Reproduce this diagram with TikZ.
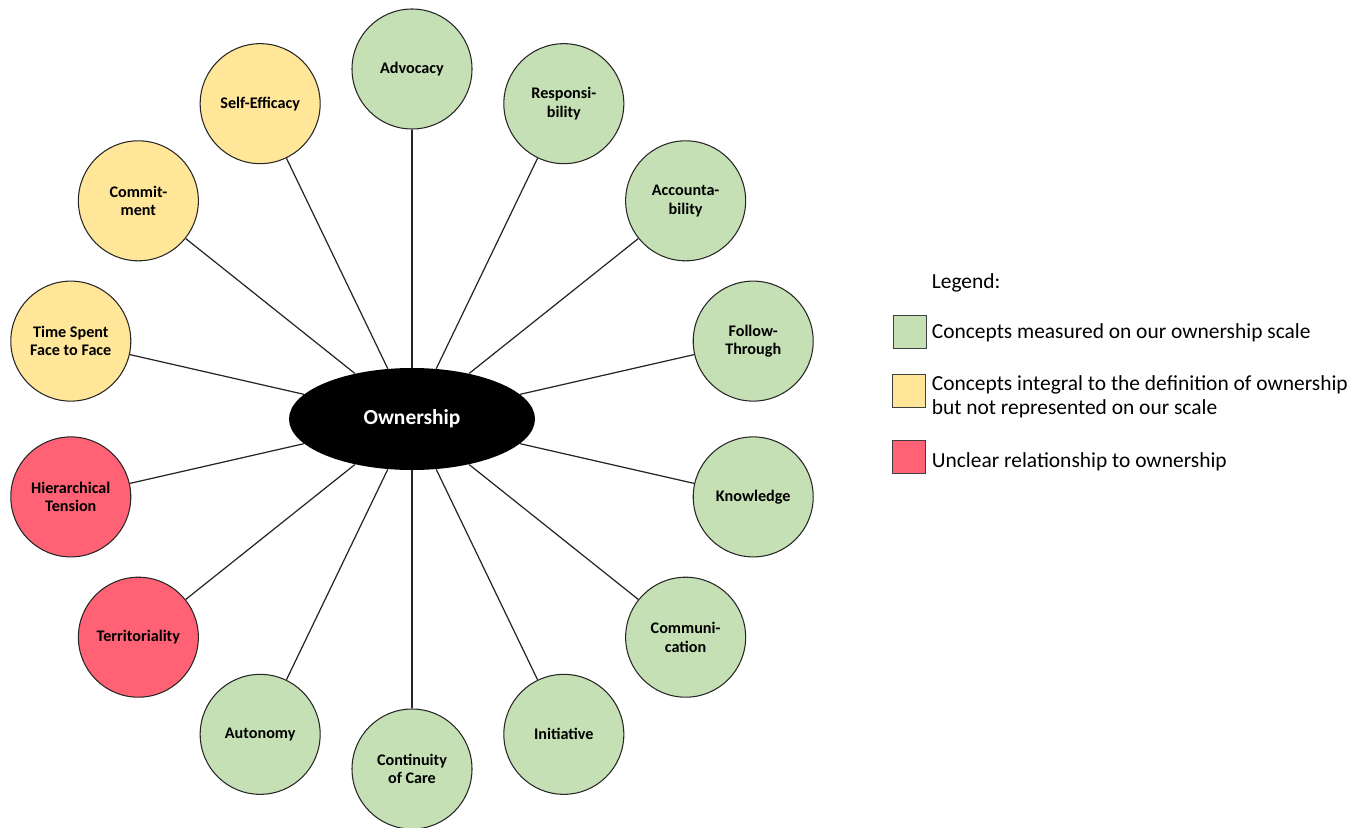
\documentclass[tikz,border=0pt]{standalone}
\usepackage{fontspec}
\setmainfont{Carlito}
\usetikzlibrary{positioning,calc,shapes.geometric}
\definecolor{concgreen}{HTML}{C5E0B4}
\definecolor{concyellow}{HTML}{FFE699}
\definecolor{concred}{HTML}{FF6274}
\tikzset{
    every node/.style={font=\fontsize{9.2}{10.5}\selectfont\bfseries},
    concept/.style={circle, draw=black!85, line width=0.6pt, minimum size=2.4cm, inner sep=0pt, align=center},
    greencircle/.style={concept, fill=concgreen},
    yellowcircle/.style={concept, fill=concyellow},
    redcircle/.style={concept, fill=concred},
    hub/.style={ellipse, fill=black, text=white, minimum width=4.92cm, minimum height=2.04cm, inner sep=0pt, font=\fontsize{12.2}{14}\selectfont\bfseries},
    link/.style={draw=black!85, line width=0.7pt},
    legbox/.style={draw=black!75, line width=0.6pt, minimum size=0.66cm, inner sep=0pt},
    legtext/.style={anchor=west, inner sep=0pt, align=left, font=\fontsize{12.2}{13.8}\selectfont},
}

\begin{document}
\begin{tikzpicture}
  \useasboundingbox (0,0) rectangle (27.26,-16.54);
  \node[hub] (own) at (8.24,-8.38) {Ownership};
  \node[greencircle](adv) at ($(own) + (90:7cm)$) {Advocacy};
  \node[greencircle](resp) at ($(own) + (64.29:7cm)$) {Responsi-\\bility};
  \node[greencircle](acc) at ($(own) + (38.57:7cm)$) {Accounta-\\bility};
  \node[greencircle](follow) at ($(own) + (12.86:7cm)$) {Follow-\\Through};
  \node[greencircle](know) at ($(own) + (-12.86:7cm)$) {Knowledge};
  \node[greencircle](comm) at ($(own) + (-38.57:7cm)$) {Communi-\\cation};
  \node[greencircle](init) at ($(own) + (-64.29:7cm)$) {Initiative};
  \node[greencircle](cont) at ($(own) + (-90:7cm)$) {Continuity\\of Care};
  \node[greencircle](auto) at ($(own) + (-115.71:7cm)$) {Autonomy};
  \node[redcircle](terr) at ($(own) + (-141.43:7cm)$) {Territoriality};
  \node[redcircle](hier) at ($(own) + (-167.14:7cm)$) {Hierarchical\\Tension};
  \node[yellowcircle](time) at ($(own) + (167.14:7cm)$) {Time Spent\\Face to Face};
  \node[yellowcircle](commit) at ($(own) + (141.43:7cm)$) {Commit-\\ment};
  \node[yellowcircle](self) at ($(own) + (115.71:7cm)$) {Self-Efficacy};
    \draw[link] (adv) -- (own);
    \draw[link] (resp) -- (own);
    \draw[link] (acc) -- (own);
    \draw[link] (follow) -- (own);
    \draw[link] (know) -- (own);
    \draw[link] (comm) -- (own);
    \draw[link] (init) -- (own);
    \draw[link] (cont) -- (own);
    \draw[link] (auto) -- (own);
    \draw[link] (terr) -- (own);
    \draw[link] (hier) -- (own);
    \draw[link] (time) -- (own);
    \draw[link] (commit) -- (own);
    \draw[link] (self) -- (own);
  % legend
  \node[legtext] (legtitle) at (18.63,-5.654) {Legend:};
  \node[legbox, fill=concgreen] (lgreen) at (18.2,-6.634) {};
  \node[legbox, fill=concyellow] (lyellow) at (18.18,-7.82) {};
  \node[legbox, fill=concred] (lred) at (18.18,-9.134) {};
  \node[legtext] (tgreen) at (18.63,-6.654) {Concepts measured on our ownership scale};
  \node[legtext] (tyellow) at (18.63,-7.94) {Concepts integral to the definition of ownership\\but not represented on our scale};
  \node[legtext] (tred) at (18.63,-9.234) {Unclear relationship to ownership};
\end{tikzpicture}
\end{document}
